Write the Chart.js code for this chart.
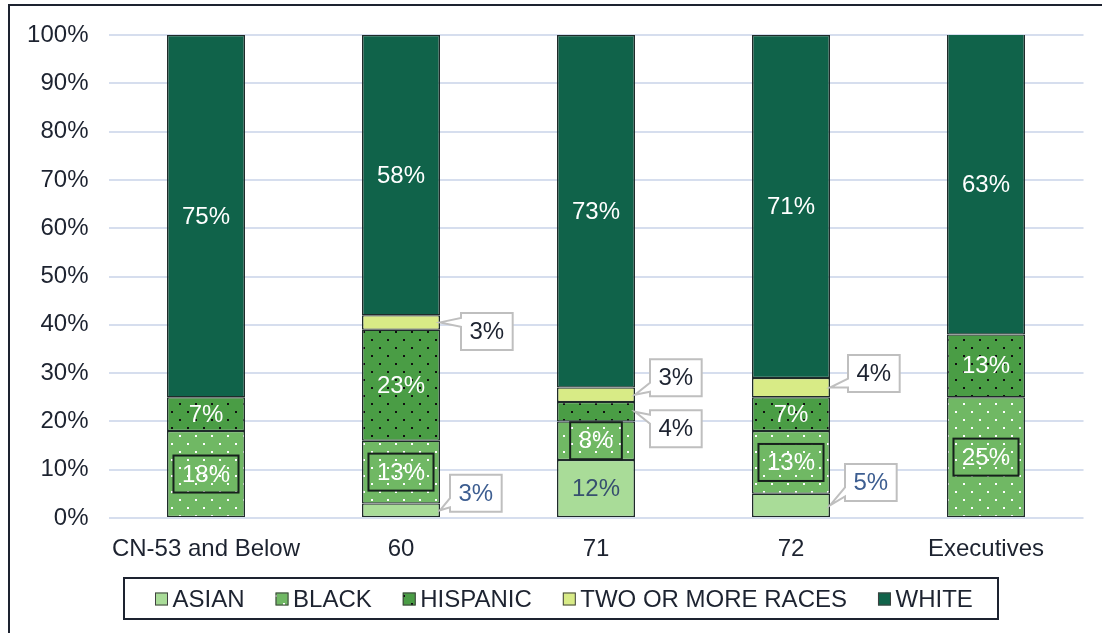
<!DOCTYPE html>
<html>
<head>
<meta charset="utf-8">
<script src="https://cdn.jsdelivr.net/npm/chart.js@4.4.1/dist/chart.umd.min.js"></script>
<style>
  html, body { margin: 0; padding: 0; background: #fff; }
</style>
</head>
<body>
<canvas id="chart" width="1102" height="633"></canvas>
<script>
const categories = ['CN-53 and Below', '60', '71', '72', 'Executives'];
const asian     = [0, 3, 12, 5, 0];
const black     = [18, 13, 8, 13, 25];
const hispanic  = [7, 23, 4, 7, 13];
const twoOrMore = [0, 3, 3, 4, 0];
const white     = [75, 58, 73, 71, 63];

const FONT = '24px "Liberation Sans", Arial, sans-serif';
const INK = '#1d2330';

// dotted fills for BLACK / HISPANIC
function dots(bg, dot) {
  const c = document.createElement('canvas');
  c.width = 16; c.height = 16;
  const g = c.getContext('2d');
  g.fillStyle = bg;
  g.fillRect(0, 0, 16, 16);
  g.fillStyle = dot;
  g.fillRect(3, 3, 2, 2);
  g.fillRect(11, 11, 2, 2);
  return g.createPattern(c, 'repeat');
}

const blackFill = dots('#70b864', '#ffffff');
const hispFill = dots('#4a9d45', '#101010');

// how each segment is labelled: inside, boxed, callout or none
const labelModes = {
  ASIAN:    ['none', 'callout', 'inside', 'callout', 'none'],
  BLACK:    ['box', 'box', 'box', 'box', 'box'],
  HISPANIC: ['inside', 'inside', 'callout', 'inside', 'inside'],
  'TWO OR MORE RACES': ['none', 'callout', 'callout', 'callout', 'none'],
  WHITE:    ['inside', 'inside', 'inside', 'inside', 'inside']
};
const labelColors = {
  ASIAN: '#3d5e91',
  BLACK: '#ffffff',
  HISPANIC: '#ffffff',
  'TWO OR MORE RACES': INK,
  WHITE: '#ffffff'
};
// callout box offset from the bar's right edge / segment middle
const calloutOffsets = {
  'ASIAN-1': { dx: 10, dy: -17 },
  'ASIAN-3': { dx: 15, dy: -23 },
  'HISPANIC-2': { dx: 15, dy: 17 },
  'TWO OR MORE RACES-1': { dx: 21, dy: 9 },
  'TWO OR MORE RACES-2': { dx: 15, dy: -17 },
  'TWO OR MORE RACES-3': { dx: 18, dy: -14 }
};

const frame = {
  id: 'frame',
  beforeDraw(chart) {
    const ctx = chart.ctx;
    ctx.save();
    ctx.fillStyle = INK;
    ctx.fillRect(8, 4, 1094, 2);
    ctx.fillRect(8, 4, 2, 629);
    ctx.restore();
  }
};

const valueLabels = {
  id: 'valueLabels',
  afterDatasetsDraw(chart) {
    const ctx = chart.ctx;
    const area = chart.chartArea;
    ctx.save();
    ctx.font = FONT;
    ctx.textAlign = 'center';
    ctx.textBaseline = 'middle';
    chart.data.datasets.forEach((ds, di) => {
      const meta = chart.getDatasetMeta(di);
      meta.data.forEach((bar, ci) => {
        const v = ds.data[ci];
        const mode = labelModes[ds.label][ci];
        if (!v || mode === 'none') return;
        const text = v + '%';
        const top = Math.max(bar.y, area.top);
        const cy = (top + bar.base) / 2;
        const tw = ctx.measureText(text).width;
        let color = labelColors[ds.label];
        if (mode === 'callout') {
          const off = calloutOffsets[ds.label + '-' + ci];
          const right = bar.x + bar.width / 2;
          const w = tw + 17, h = 37;
          const bx = right + off.dx, by = cy + off.dy - h / 2;
          const py = Math.min(Math.max(cy, by + 9), by + h - 9);
          ctx.beginPath();
          ctx.moveTo(bx, by);
          ctx.lineTo(bx + w, by);
          ctx.lineTo(bx + w, by + h);
          ctx.lineTo(bx, by + h);
          ctx.lineTo(bx, py + 4.5);
          ctx.lineTo(right, cy);
          ctx.lineTo(bx, py - 4.5);
          ctx.closePath();
          ctx.fillStyle = '#ffffff';
          ctx.fill();
          ctx.strokeStyle = '#bfbfbf';
          ctx.lineWidth = 2;
          ctx.stroke();
          if (ds.label === 'HISPANIC') color = INK;
          ctx.fillStyle = color;
          ctx.fillText(text, bx + w / 2, by + h / 2 + 1);
          return;
        }
        if (mode === 'box') {
          const w = tw + 17, h = 37;
          ctx.strokeStyle = '#16201c';
          ctx.lineWidth = 2;
          ctx.strokeRect(bar.x - w / 2, cy - h / 2, w, h);
        }
        if (ds.label === 'ASIAN') color = '#37506f';
        ctx.fillStyle = color;
        ctx.fillText(text, bar.x, cy + 1);
      });
    });
    ctx.restore();
  }
};

// legend drawn by hand so it can have its own border and tight spacing
const legendBox = {
  id: 'legendBox',
  afterDraw(chart) {
    const ctx = chart.ctx;
    ctx.save();
    ctx.font = FONT;
    ctx.textBaseline = 'middle';
    ctx.textAlign = 'left';
    ctx.strokeStyle = INK;
    ctx.lineWidth = 2;
    ctx.strokeRect(124, 578, 874, 41);
    let x = 155;
    const cy = 599;
    chart.data.datasets.forEach(ds => {
      ctx.fillStyle = ds.backgroundColor;
      ctx.fillRect(x, cy - 6.5, 13, 13);
      ctx.strokeStyle = '#404040';
      ctx.lineWidth = 1;
      ctx.strokeRect(x + 0.5, cy - 6, 12, 12);
      ctx.fillStyle = INK;
      ctx.fillText(ds.label, x + 17.5, cy + 1);
      x += 17.5 + ctx.measureText(ds.label).width + 31;
    });
    ctx.restore();
  }
};

function series(label, data, fill) {
  return {
    label: label,
    data: data,
    backgroundColor: fill,
    borderColor: '#1f2b2a',
    borderWidth: { top: 1.25, bottom: 1.25, left: 1.5, right: 1.5 },
    borderSkipped: false,
    barPercentage: 0.4,
    categoryPercentage: 1
  };
}

new Chart('chart', {
  type: 'bar',
  data: {
    labels: categories,
    datasets: [
      series('ASIAN', asian, '#a9dc98'),
      series('BLACK', black, blackFill),
      series('HISPANIC', hispanic, hispFill),
      series('TWO OR MORE RACES', twoOrMore, '#d8eb86'),
      series('WHITE', white, '#10634a')
    ]
  },
  options: {
    responsive: false,
    animation: false,
    devicePixelRatio: 1,
    layout: { padding: { top: 35, right: 18.5, bottom: 65, left: 0 } },
    plugins: {
      legend: { display: false },
      tooltip: { enabled: false }
    },
    scales: {
      x: {
        stacked: true,
        grid: { display: false },
        border: { display: false },
        ticks: { font: { family: '"Liberation Sans", Arial', size: 24 }, color: INK, padding: 9, maxRotation: 0, autoSkip: false },
        afterFit(s) { s.height = 50; }
      },
      y: {
        stacked: true,
        min: 0,
        max: 100,
        grid: { color: '#d6deee', lineWidth: 2, drawTicks: false },
        border: { display: false },
        ticks: {
          stepSize: 10,
          padding: 20,
          font: { family: '"Liberation Sans", Arial', size: 24 },
          color: INK,
          callback: v => v + '%'
        },
        afterFit(s) { s.width = 108.5; }
      }
    }
  },
  plugins: [frame, valueLabels, legendBox]
});
</script>
</body>
</html>
